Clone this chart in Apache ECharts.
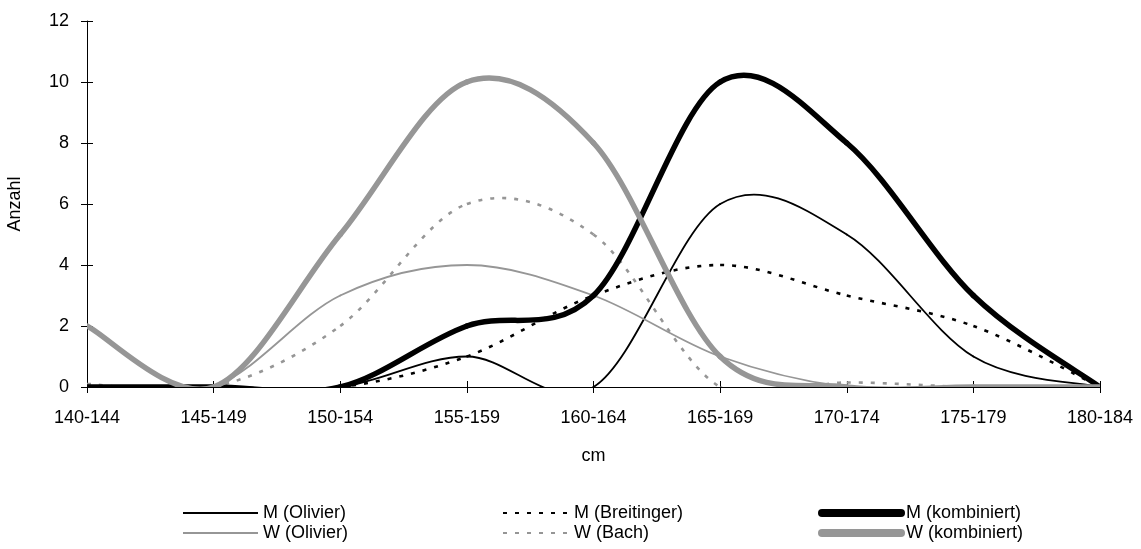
<!DOCTYPE html>
<html>
<head>
<meta charset="utf-8">
<script src="https://cdn.jsdelivr.net/npm/echarts@6/dist/echarts.min.js"></script>
<style>html,body{margin:0;padding:0;background:#fff}#c{width:1141px;height:549px}</style>
</head>
<body>
<div id="c"></div>
<script>
const categories = ['140-144','145-149','150-154','155-159','160-164','165-169','170-174','175-179','180-184'];
const yTicks = [0,2,4,6,8,10,12];
const mOlivier     = [0, 0, 0, 1, 0, 6, 5, 1, 0];
const mBreitinger  = [0, 0, 0, 1, 3, 4, 3, 2, 0];
const mKombiniert  = [0, 0, 0, 2, 3, 10, 8, 3, 0];
const wOlivier     = [0, 0, 3, 4, 3, 1, 0, 0, 0];
const wBach        = [0.1, 0, 2, 6, 5, 0, 0.15, 0, 0];
const wKombiniert  = [2, 0, 5, 10, 8, 1, 0, 0, 0];

const FONT = '"Liberation Sans", Arial, sans-serif';
const FS = 18;
const GRAY = '#969696';
const DOT = [4, 8];
const chart = echarts.init(document.getElementById('c'), null, {renderer: 'canvas'});

function proxy(name, color, width, type) {
  return {
    name, type: 'line', data: [], symbol: 'none',
    lineStyle: {color, width, type: type || 'solid'}, itemStyle: {color},
    silent: true, animation: false
  };
}
function curve(name, arr, color, width, dash) {
  return {
    name, type: 'custom', clip: true, silent: true, animation: false,
    data: arr.map((v, i) => [i, v]),
    encode: {x: 0, y: 1},
    renderItem: function (params, api) {
      const i = params.dataIndex, n = arr.length;
      if (i >= n - 1) return null;
      const P = k => { k = Math.max(0, Math.min(n - 1, k)); return api.coord([k, arr[k]]); };
      const p0 = P(i - 1), p1 = P(i), p2 = P(i + 1), p3 = P(i + 2);
      return {
        type: 'bezierCurve',
        shape: {
          x1: p1[0], y1: p1[1], x2: p2[0], y2: p2[1],
          cpx1: p1[0] + (p2[0] - p0[0]) / 6, cpy1: p1[1] + (p2[1] - p0[1]) / 6,
          cpx2: p2[0] - (p3[0] - p1[0]) / 6, cpy2: p2[1] - (p3[1] - p1[1]) / 6
        },
        style: {stroke: color, fill: null, lineWidth: width, lineDash: dash || null,
                lineCap: dash ? 'butt' : 'round'}
      };
    }
  };
}
const legendText = {color: '#000', fontFamily: FONT, fontSize: FS};
function legend(items, left, w) {
  return {
    data: items, orient: 'vertical', left, top: 499, itemWidth: w, itemHeight: 18, itemGap: 2,
    textStyle: legendText, selectedMode: false, itemStyle: {opacity: 0}
  };
}
chart.setOption({
  animation: false,
  grid: {left: 87, right: 41, top: 21, bottom: 162, containLabel: false, outerBoundsMode: 'none'},
  legend: [
    legend(['M (Olivier)', 'W (Olivier)'], 177, 75),
    legend(['M (Breitinger)', 'W (Bach)'], 497, 66),
    legend([{name: 'M (kombiniert)', lineStyle: {width: 8, cap: 'round'}},
            {name: 'W (kombiniert)', lineStyle: {width: 8, cap: 'round'}}], 813, 79)
  ],
  xAxis: [
    {
      type: 'category', data: categories, boundaryGap: false, position: 'bottom',
      name: 'cm', nameLocation: 'middle', nameGap: 60,
      nameTextStyle: {color: '#000', fontFamily: FONT, fontSize: FS},
      axisLine: {lineStyle: {color: '#000', width: 1}},
      axisTick: {show: true, inside: false, length: 6, lineStyle: {color: '#000'}},
      axisLabel: {color: '#000', fontFamily: FONT, fontSize: FS, margin: 22},
      splitLine: {show: false}
    },
    {
      type: 'category', data: categories, boundaryGap: false, position: 'bottom',
      axisLine: {show: false},
      axisTick: {show: true, inside: true, length: 6, lineStyle: {color: '#000'}},
      axisLabel: {show: false}, splitLine: {show: false}
    }
  ],
  yAxis: [
    {
      type: 'value', min: 0, max: 12, interval: 2,
      name: 'Anzahl', nameLocation: 'middle', nameGap: 63, nameRotate: 90,
      nameTextStyle: {color: '#000', fontFamily: FONT, fontSize: FS},
      axisLine: {show: true, lineStyle: {color: '#000', width: 1}},
      axisTick: {show: true, inside: false, length: 6, lineStyle: {color: '#000'}},
      axisLabel: {color: '#000', fontFamily: FONT, fontSize: FS, margin: 18,
        formatter: v => yTicks.includes(v) ? String(v) : ''},
      splitLine: {show: false}
    },
    {
      type: 'value', min: 0, max: 12, interval: 2, position: 'left',
      axisLine: {show: false},
      axisTick: {show: true, inside: true, length: 6, lineStyle: {color: '#000'}},
      axisLabel: {show: false}, splitLine: {show: false}
    }
  ],
  series: [
    proxy('M (Olivier)', '#000', 2),
    proxy('W (Olivier)', GRAY, 2),
    proxy('M (Breitinger)', '#000', 3, DOT),
    proxy('W (Bach)', GRAY, 3, DOT),
    proxy('M (kombiniert)', '#000', 6),
    proxy('W (kombiniert)', GRAY, 6),
    curve('M (Olivier)', mOlivier, '#000', 1.8),
    curve('W (Olivier)', wOlivier, GRAY, 1.8),
    curve('M (Breitinger)', mBreitinger, '#000', 2.6, DOT),
    curve('W (Bach)', wBach, GRAY, 2.6, DOT),
    curve('M (kombiniert)', mKombiniert, '#000', 5.5),
    curve('W (kombiniert)', wKombiniert, GRAY, 5.5)
  ]
});
</script>
</body>
</html>
